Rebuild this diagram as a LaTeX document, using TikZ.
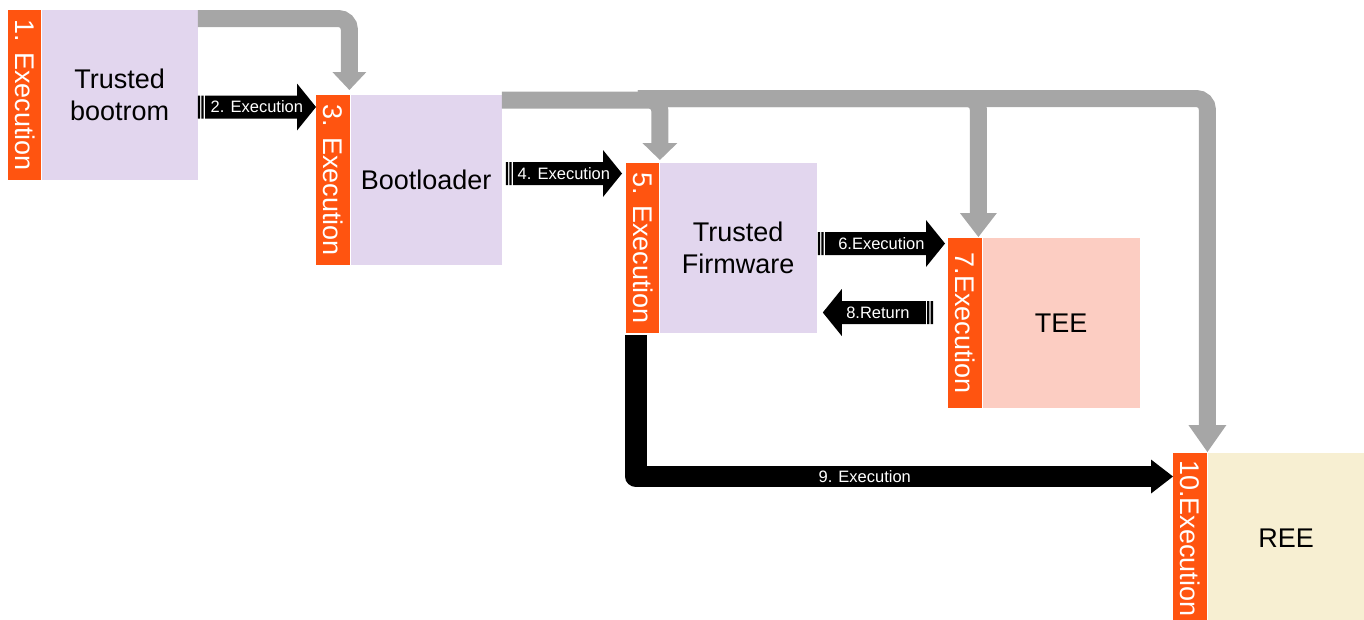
\documentclass[tikz,border=0pt]{standalone}
\usepackage{fontspec}
\setmainfont{Liberation Sans}
\usetikzlibrary{arrows.meta,calc}

\definecolor{stripor}{HTML}{FF5410}
\definecolor{lilac}{HTML}{E2D6EE}
\definecolor{teepink}{HTML}{FCCDC2}
\definecolor{reecream}{HTML}{F7EFD2}
\definecolor{flowgray}{HTML}{A6A6A6}

\tikzset{
  strip/.style={rectangle, fill=stripor, inner sep=0pt, minimum height=170pt, anchor=north west},
  striptext/.style={text=white, rotate=-90, font=\fontsize{27}{32}\selectfont, inner sep=0pt},
  panel/.style={rectangle, inner sep=0pt, minimum height=170pt, anchor=north west,
                align=center, font=\fontsize{27}{32}\selectfont},
  arrowlabel/.style={text=white, font=\fontsize{16.5}{18}\selectfont, inner sep=0pt},
  flow/.style={draw=flowgray, line width=17pt, rounded corners=11pt},
  jump/.style={draw=black, line width=21.5pt, line join=round},
}

% striped block arrow: two thin bars at the tail, a body and a head;
% #1 tail, #2 tip (same height), #3 label
\newcommand\striparrow[3]{%
  \fill[black] let \p1=(#1), \p2=(#2), \n1={sign(\x2-\x1)} in
    (\x1,{\y1-11.5pt}) rectangle ({\x1+2.3pt*\n1},{\y1+11.5pt})
    ({\x1+3.6pt*\n1},{\y1-11.5pt}) rectangle ({\x1+5.9pt*\n1},{\y1+11.5pt})
    ({\x1+7.2pt*\n1},{\y1-11.5pt}) -- ({\x2-19pt*\n1},{\y1-11.5pt})
      -- ({\x2-19pt*\n1},{\y1-23.5pt}) -- (\x2,\y1)
      -- ({\x2-19pt*\n1},{\y1+23.5pt}) -- ({\x2-19pt*\n1},{\y1+11.5pt})
      -- ({\x1+7.2pt*\n1},{\y1+11.5pt}) -- cycle;
  \node[arrowlabel] at ($(#1)!0.5!(#2)$) {#3};
}

\begin{document}
\begin{tikzpicture}[x=1pt, y=-1pt]
\useasboundingbox (0,0) rectangle (1364,619);

% stages: orange step strip + content panel
\node[strip, minimum width=33pt, label={[striptext]center:1. Execution}] (s1) at (8,10) {};
\node[panel, fill=lilac, minimum width=156pt] (b1) at (s1.north east) {Trusted\\bootrom};

\node[strip, minimum width=34pt, label={[striptext]center:3. Execution}] (s3) at (316,95) {};
\node[panel, fill=lilac, minimum width=151pt] (b3) at (s3.north east) {Bootloader};

\node[strip, minimum width=33pt, label={[striptext]center:5. Execution}] (s5) at (626,163) {};
\node[panel, fill=lilac, minimum width=157pt] (b5) at (s5.north east) {Trusted\\Firmware};

\node[strip, minimum width=34pt, label={[striptext]center:7.Execution}] (s7) at (948,238) {};
\node[panel, fill=teepink, minimum width=157pt] (b7) at (s7.north east) {TEE};

\node[strip, minimum width=34pt, label={[striptext]center:10.Execution}] (s10) at (1173,453) {};
\node[panel, fill=reecream, minimum width=157pt] (b10) at (s10.north east) {REE};

% gray loading arrows
\coordinate (g1s) at ($(b1.north east)+(0,8.5)$);
\coordinate (g1e) at ($(b3.north west)+(-1,-5)$);
\draw[flow, -{Triangle[length=18pt,width=34pt,line width=0pt]}] (g1s) -| (g1e);

\coordinate (gAs) at ($(b3.north east)+(0,5)$);
\coordinate (gAe) at ($(b5.north west)+(0.5,-3)$);
\draw[flow, -{Triangle[length=17pt,width=35pt,line width=0pt]}] (gAs) -| (gAe);

\coordinate (fork) at ($(b3.north east)+(136,3.5)$);
\coordinate (gCe) at ($(s7.north east)+(-4,-1)$);
\draw[flow, -{Triangle[length=24pt,width=37pt,line width=0pt]}] (fork) -| (gCe);
\coordinate (gBe) at ($(b10.north west)+(0,-1)$);
\draw[flow, -{Triangle[length=27pt,width=38pt,line width=0pt]}] (fork) -| (gBe);

% black execution hand-overs
\coordinate (a2s) at ($(b1.north east)+(0,97)$);
\coordinate (a2e) at (a2s -| s3.west);
\striparrow{a2s}{a2e}{2. Execution}

\coordinate (a4s) at ($(b3.north east)+(4,78.5)$);
\coordinate (a4e) at ($(a4s -| s5.west)+(-4,0)$);
\striparrow{a4s}{a4e}{4. Execution}

\coordinate (a6s) at ($(b5.north east)+(1,80.5)$);
\coordinate (a6e) at ($(a6s -| s7.west)+(-3,0)$);
\striparrow{a6s}{a6e}{6.Execution}

\coordinate (a8e) at ($(b5.north east)+(6,149.5)$);
\coordinate (a8s) at ($(a8e -| s7.west)+(-15,0)$);
\striparrow{a8s}{a8e}{8.Return}

\coordinate (a9s) at ($(s5.south west)+(10,2)$);
\coordinate (a9e) at ($(s10.north west)+(0,23.5)$);
\draw[jump, -{Triangle[length=22pt,width=34pt,line width=0pt]}] (a9s) |- (a9e)
  node[arrowlabel, pos=0.713] {9. Execution};
\end{tikzpicture}
\end{document}
